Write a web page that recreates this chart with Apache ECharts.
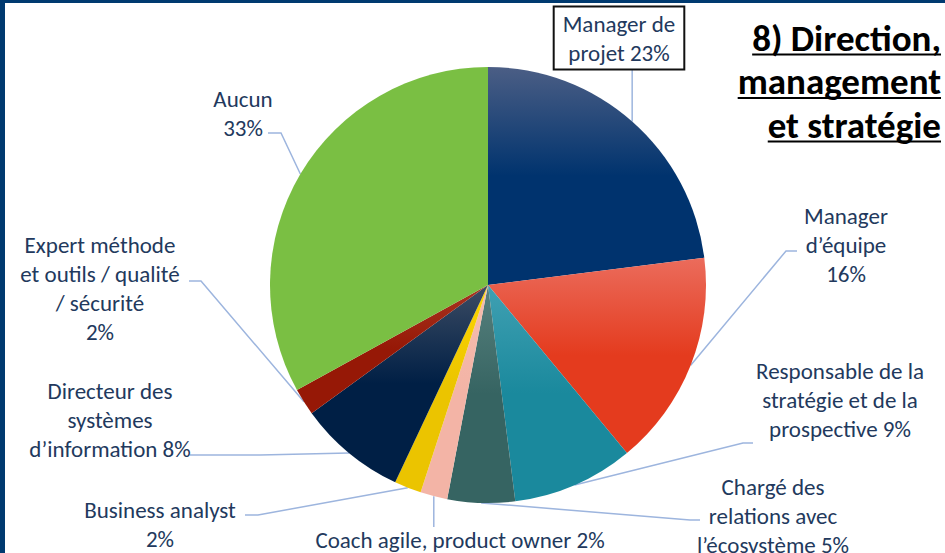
<!DOCTYPE html>
<html lang="fr">
<head>
<meta charset="UTF-8">
<title>Direction, management et stratégie</title>
<style>
  html, body { margin: 0; padding: 0; background: #fff; }
  #chart { width: 945px; height: 553px; }
</style>
</head>
<body>
<div id="chart"></div>
<script src="https://cdn.jsdelivr.net/npm/echarts@6/dist/echarts.min.js"></script>
<script>
// categories and their shares (%) as printed on the chart
const categories = [
  'Manager de projet',
  'Manager d’équipe',
  'Responsable de la stratégie et de la prospective',
  'Chargé des relations avec l’écosystème',
  'Coach agile, product owner',
  'Business analyst',
  'Directeur des systèmes d’information',
  'Expert méthode et outils / qualité / sécurité',
  'Aucun'
];
const shares = [23, 16, 9, 5, 2, 2, 8, 2, 33];

// how each label is broken into lines (trailing \n puts the % on its own line)
const labelText = [
  'Manager de\nprojet',
  'Manager\nd’équipe\n',
  'Responsable de la\nstratégie et de la\nprospective',
  'Chargé des\nrelations avec\nl’écosystème',
  'Coach agile, product owner',
  'Business analyst\n',
  'Directeur des\nsystèmes\nd’information',
  'Expert méthode\net outils / qualité\n/ sécurité\n',
  'Aucun\n'
];

const titleLines = ['8) Direction,', 'management', 'et stratégie'];

// slice colours: [top, bottom] of the vertical gradient
const sliceColors = [
  ['#4b5e85', '#00336e'],
  ['#eb6c5c', '#e43b1e'],
  ['#40a0b2', '#1a899d'],
  ['#58817e', '#366462'],
  ['#f5bcae', '#f3b4a6'],
  ['#fdd500', '#ebc400'],
  ['#3c4c64', '#001f45'],
  ['#a83522', '#961806'],
  ['#7abf43', '#7abf43']
];

// label centres and leader line [bend, end] points (null x = keep slice x, vertical line)
const labelPos = [
  [619, 38], [846, 245], [840, 400], [773, 516], [460, 540],
  [160, 524], [110, 420], [100, 288], [243, 113]
];
const leader = [
  [[null, 90], [null, 69]],
  [[786, 251], [797, 251]],
  [[743, 443], [753, 443]],
  [[690, 520], [700, 520]],
  [[null, 510], [null, 527]],
  [[258, 515], [245, 515]],
  [[260, 455], [190, 455]],
  [[201, 281], [189, 281]],
  [[281, 133], [268, 133]]
];

const labelFont = 'Carlito, Lato, "Noto Sans", sans-serif';
const textColor = '#22395d';

const chart = echarts.init(document.getElementById('chart'), null, { renderer: 'svg' });

// measure title lines for the underline
const ctx = document.createElement('canvas').getContext('2d');
const titleFont = 'bold 37px ' + labelFont;
ctx.font = titleFont;

const titleRight = 941;
const titleGraphics = [];
titleLines.forEach((t, i) => {
  const cy = 38 + i * 43.5;
  const w = ctx.measureText(t).width;
  titleGraphics.push({
    type: 'text', x: titleRight, y: cy,
    style: { text: t, font: titleFont, fill: '#000', align: 'right', verticalAlign: 'middle' }
  });
  titleGraphics.push({
    type: 'rect', shape: { x: titleRight - w, y: cy + 15.5, width: w, height: 2 },
    style: { fill: '#000' }
  });
});

const data = categories.map((name, i) => {
  const item = {
    name: name,
    value: shares[i],
    itemStyle: {
      color: new echarts.graphic.LinearGradient(0, 0, 0, 1, [
        { offset: 0, color: sliceColors[i][0] },
        { offset: 0.5, color: sliceColors[i][1] },
        { offset: 1, color: sliceColors[i][1] }
      ])
    }
  };
  if (i === 0) {
    item.label = {
      backgroundColor: '#fff', borderColor: '#111', borderWidth: 2,
      padding: [2, 8, 1, 8]
    };
  }
  return item;
});

chart.setOption({
  backgroundColor: '#fff',
  animation: false,
  graphic: [
    { type: 'rect', shape: { x: 0, y: 0, width: 945, height: 3 }, style: { fill: '#003a70' } },
    { type: 'rect', shape: { x: 0, y: 0, width: 5, height: 553 }, style: { fill: '#003a70' } }
  ].concat(titleGraphics),
  series: [{
    type: 'pie',
    center: [488, 285],
    radius: 218,
    startAngle: 90,
    clockwise: true,
    avoidLabelOverlap: false,
    data: data,
    label: {
      show: true,
      position: 'outside',
      color: textColor,
      fontFamily: labelFont,
      fontSize: 23,
      lineHeight: 29,
      align: 'center',
      formatter: p => {
        const t = labelText[p.dataIndex];
        return t + (t.endsWith('\n') ? '' : ' ') + p.value + '%';
      }
    },
    labelLine: {
      show: true,
      smooth: false,
      lineStyle: { color: '#9db5de', width: 1.5 }
    },
    labelLayout: params => {
      const i = params.dataIndex;
      const p0 = params.labelLinePoints[0];
      const pick = pt => [pt[0] == null ? p0[0] : pt[0], pt[1]];
      return {
        x: labelPos[i][0],
        y: labelPos[i][1],
        align: 'center',
        verticalAlign: 'middle',
        labelLinePoints: [p0, pick(leader[i][0]), pick(leader[i][1])]
      };
    },
    emphasis: { disabled: true }
  }]
});
</script>
</body>
</html>
